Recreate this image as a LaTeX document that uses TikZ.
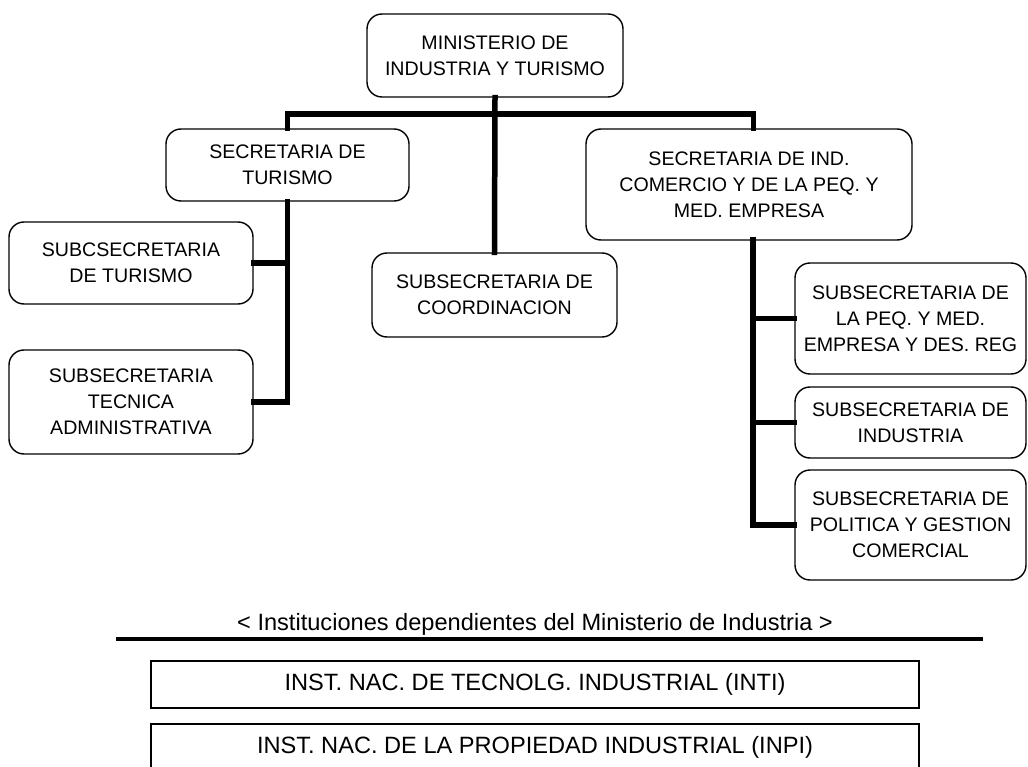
\documentclass[tikz,border=0pt]{standalone}
\usepackage{fontspec}
\setmainfont{Liberation Sans}
\begin{document}
\begin{tikzpicture}[x=1pt,y=-1pt,
  org/.style={draw, line width=1.4pt, rounded corners=15pt, inner sep=0pt, align=center,
    font=\fontsize{19.6}{26}\selectfont},
  inst/.style={draw, line width=1.4pt, inner sep=0pt, align=center,
    font=\fontsize{23.6}{28}\selectfont},
  conn/.style={line width=5.5pt, line join=miter, line cap=rect},
  rule/.style={line width=4.5pt}]
\useasboundingbox (0,0) rectangle (1028,767);
% boxes
\node[org, minimum width=256pt, minimum height=83pt] (top) at (495,55.5) {MINISTERIO DE\\INDUSTRIA Y TURISMO};
\node[org, minimum width=243pt, minimum height=72pt] (sectur) at (287.5,165) {SECRETARIA DE\\TURISMO};
\node[org, minimum width=326pt, minimum height=111pt] (secind) at (749,184.5) {SECRETARIA DE IND.\\COMERCIO Y DE LA PEQ. Y\\MED. EMPRESA};
\node[org, minimum width=244pt, minimum height=82pt] (subtur) at (131,263) {SUBCSECRETARIA\\DE TURISMO};
\node[org, minimum width=244pt, minimum height=104pt] (tec) at (131,402) {SUBSECRETARIA\\TECNICA\\ADMINISTRATIVA};
\node[org, minimum width=245pt, minimum height=84pt] (coord) at (494.5,295) {SUBSECRETARIA DE\\COORDINACION};
\node[org, minimum width=231pt, minimum height=111pt] (r1) at (910.5,318.5) {SUBSECRETARIA DE\\LA PEQ. Y MED.\\EMPRESA Y DES. REG};
\node[org, minimum width=231pt, minimum height=71pt] (r2) at (910.5,422.5) {SUBSECRETARIA DE\\INDUSTRIA};
\node[org, minimum width=231pt, minimum height=110pt] (r3) at (910.5,525) {SUBSECRETARIA DE\\POLITICA Y GESTION\\COMERCIAL};
% connectors
\coordinate (barL) at (287.5,114);
\coordinate (barR) at (753.5,114);
\draw[conn] (sectur.north) -- (barL) -- (barR) -- (barR |- secind.north);
\draw[conn] (top.south) -- (coord.north);
\coordinate (rv) at (753,240);
\draw[conn] (sectur.south) |- (subtur.east);
\draw[conn] (sectur.south) |- (tec.east);
\draw[conn] (rv) |- (r1.west);
\draw[conn] (rv) |- (r2.west);
\draw[conn] (rv) |- (r3.west);
% institutions
\node[font=\fontsize{23.6}{28}\selectfont, inner sep=0pt] (title) at (535,624) {< Instituciones dependientes del Ministerio de Industria >};
\coordinate (ruleL) at (116,639);
\coordinate (ruleR) at (983,639);
\draw[rule] (ruleL) -- (ruleR);
\node[inst, minimum width=768pt, minimum height=47pt] (inti) at (535,684.5) {INST. NAC. DE TECNOLG. INDUSTRIAL (INTI)};
\node[inst, minimum width=768pt, minimum height=47pt] (inpi) at (535,747.5) {INST. NAC. DE LA PROPIEDAD INDUSTRIAL (INPI)};
\end{tikzpicture}
\end{document}
